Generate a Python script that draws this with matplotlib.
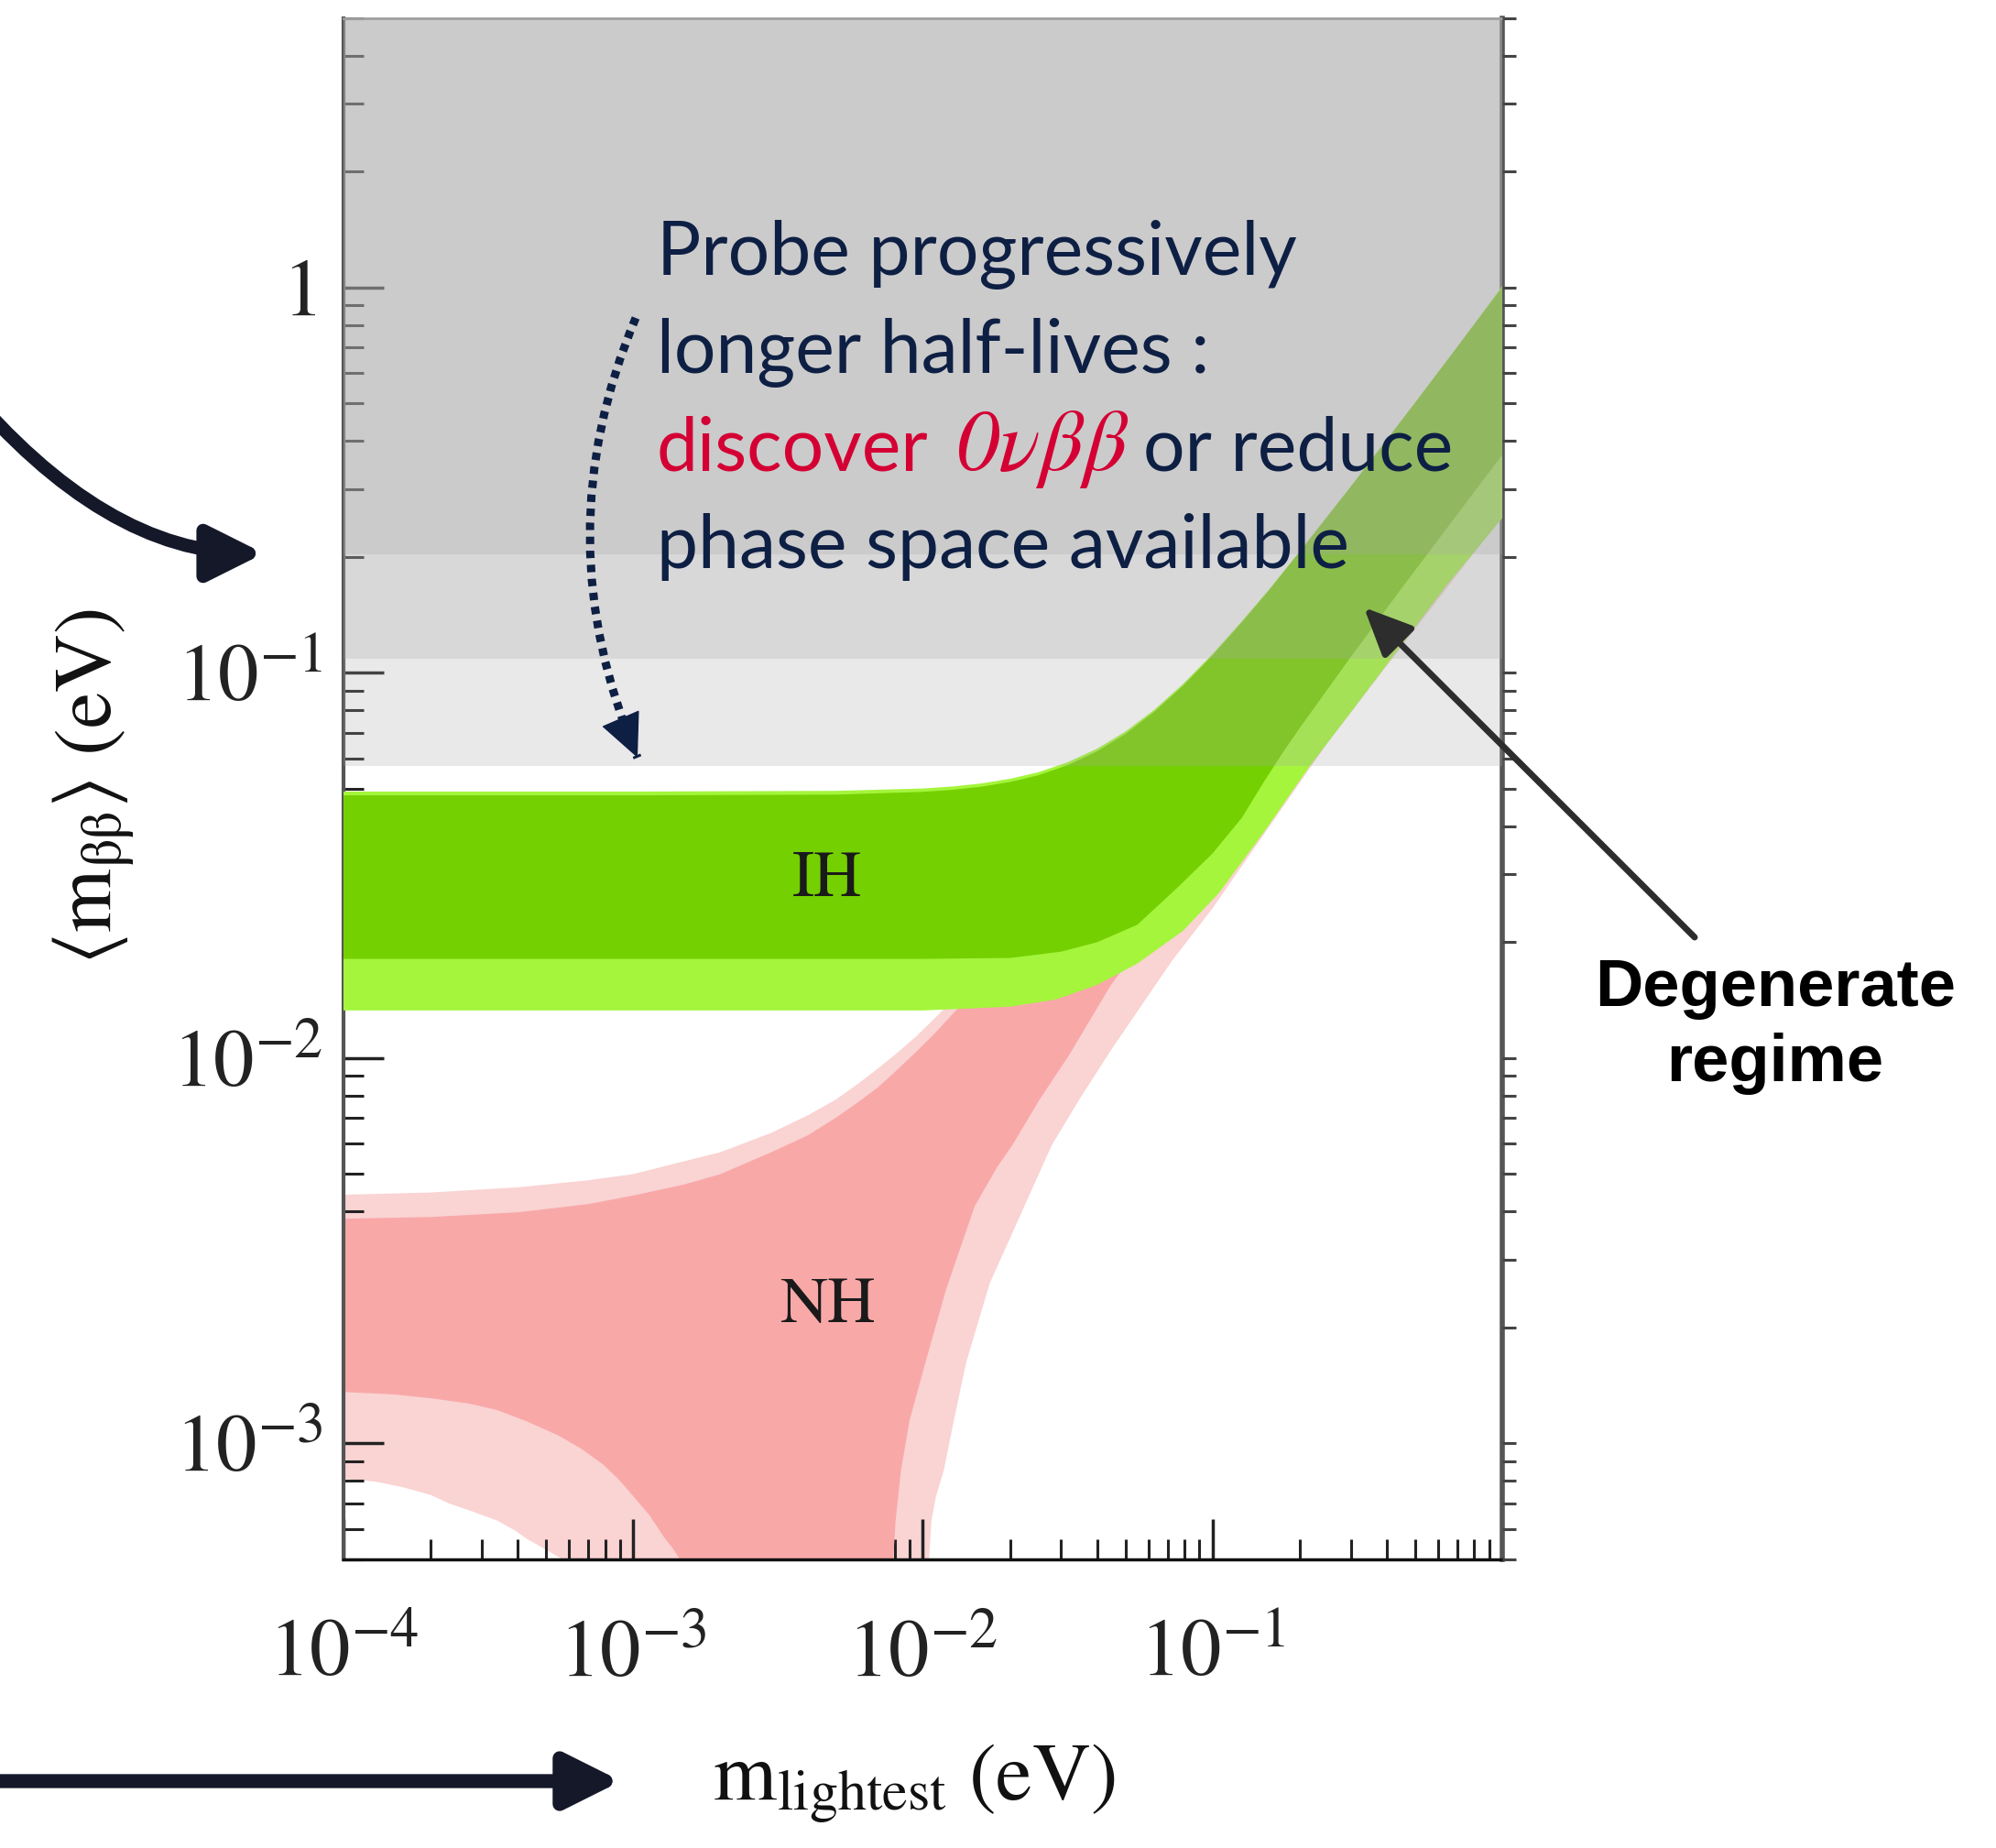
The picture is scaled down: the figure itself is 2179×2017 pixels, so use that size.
import matplotlib
matplotlib.use("Agg")
import matplotlib.pyplot as plt
from matplotlib.patches import FancyArrowPatch, PathPatch
from matplotlib.path import Path

plt.rcParams['mathtext.fontset'] = 'stix'
plt.rcParams['font.family'] = 'STIXGeneral'

W, H = 2179, 2017

### Band edges (eV) ###
# inverted hierarchy: upper edges
ih_top_x = [1e-4, 1e-3, 5e-3, 0.01, 0.0126, 0.0158, 0.02, 0.025, 0.0316, 0.04, 0.05, 0.063,
            0.079, 0.1, 0.126, 0.158, 0.2, 0.3, 0.5, 0.7, 1.0]
ih_top_3s = [0.0492, 0.0492, 0.0494, 0.0501, 0.0507, 0.0516, 0.0531, 0.0552, 0.0586, 0.0636,
             0.0704, 0.0803, 0.0935, 0.112, 0.136, 0.166, 0.207, 0.305, 0.503, 0.703, 1.01]
ih_top_1s = [0.0481, 0.0481, 0.0483, 0.0491, 0.0497, 0.0506, 0.0521, 0.0542, 0.0576, 0.0626,
             0.0694, 0.0793, 0.0925, 0.111, 0.135, 0.165, 0.206, 0.304, 0.502, 0.702, 1.0]
# inverted hierarchy: lower edges
ih_low_x_1s = [1e-4, 1e-3, 0.01, 0.02, 0.03, 0.04, 0.055, 0.076, 0.1, 0.126, 0.15, 0.172, 0.2,
               0.3, 0.455, 0.7, 1.0]
ih_low_1s = [0.0181, 0.0181, 0.0181, 0.0182, 0.0189, 0.0200, 0.0222, 0.0278, 0.0340, 0.0420,
             0.0520, 0.0610, 0.0720, 0.110, 0.168, 0.258, 0.368]
ih_low_x_3s = [1e-4, 1e-3, 0.01, 0.02, 0.0288, 0.04, 0.055, 0.079, 0.105, 0.15, 0.215, 0.3,
               0.643, 1.0]
ih_low_3s = [0.0133, 0.0133, 0.0133, 0.0136, 0.0142, 0.0155, 0.0176, 0.0214, 0.0268, 0.0385,
             0.0569, 0.079, 0.169, 0.252]

# normal hierarchy: upper edges
nh_top_x = [1e-4, 2e-4, 4e-4, 7e-4, 1e-3, 1.5e-3, 2e-3, 3e-3, 4e-3, 5e-3, 6e-3, 7e-3, 8e-3,
            9.5e-3, 0.011, 0.013, 0.016, 0.02, 0.05, 0.1, 0.3, 1.0]
nh_top_3s = [0.00442, 0.00448, 0.00462, 0.00482, 0.0050, 0.0054, 0.0057, 0.0064, 0.0071,
             0.0078, 0.0086, 0.0094, 0.0102, 0.0114, 0.0127, 0.0144, 0.017, 0.0205, 0.049,
             0.098, 0.295, 0.98]
nh_top_1s = [0.00383, 0.00387, 0.00398, 0.00418, 0.0044, 0.0047, 0.0050, 0.0057, 0.0063,
             0.0070, 0.0077, 0.0084, 0.0092, 0.0104, 0.0116, 0.0133, 0.0158, 0.019, 0.046,
             0.094, 0.285, 0.95]
# normal hierarchy: cancellation edge, small m_lightest side
nh_left_x_1s = [1e-4, 1.5e-4, 2e-4, 2.7e-4, 3.4e-4, 4.3e-4, 5.5e-4, 6.6e-4, 7.9e-4, 9e-4,
                1.0e-3, 1.14e-3, 1.28e-3, 1.38e-3, 1.45e-3, 1.55e-3]
nh_left_1s = [1.36e-3, 1.34e-3, 1.31e-3, 1.27e-3, 1.22e-3, 1.14e-3, 1.05e-3, 9.7e-4, 8.8e-4,
              8.0e-4, 7.3e-4, 6.5e-4, 5.7e-4, 5.3e-4, 5.0e-4, 4.5e-4]
nh_left_x_3s = [1e-4, 1.3e-4, 1.6e-4, 2e-4, 2.3e-4, 2.8e-4, 3.4e-4, 3.9e-4, 4.3e-4, 5e-4,
                5.7e-4, 6.3e-4]
nh_left_3s = [8.1e-4, 7.95e-4, 7.7e-4, 7.35e-4, 7.0e-4, 6.65e-4, 6.3e-4, 5.95e-4, 5.65e-4,
              5.3e-4, 5.0e-4, 4.6e-4]
# normal hierarchy: cancellation edge, large m_lightest side
nh_right_x_1s = [7.8e-3, 7.9e-3, 8.05e-3, 8.4e-3, 9.0e-3, 0.0102, 0.012, 0.0151, 0.018, 0.0204,
                 0.0252, 0.032, 0.0445, 0.06, 0.08, 0.12, 0.2, 0.4, 1.0]
nh_right_1s = [4.0e-4, 5.0e-4, 6.3e-4, 8.5e-4, 1.15e-3, 1.62e-3, 2.5e-3, 4.13e-3, 5.2e-3,
               5.96e-3, 7.78e-3, 0.0102, 0.01545, 0.021, 0.0285, 0.043, 0.072, 0.145, 0.36]
nh_right_x_3s = [0.0104, 0.0105, 0.0107, 0.0111, 0.0118, 0.0128, 0.0141, 0.017, 0.0224, 0.0279,
                 0.035, 0.045, 0.0723, 0.1, 0.15, 0.25, 0.5, 1.0]
nh_right_3s = [4.0e-4, 5.0e-4, 6.3e-4, 7.3e-4, 8.5e-4, 1.15e-3, 1.62e-3, 2.6e-3, 4.13e-3,
               5.96e-3, 7.9e-3, 0.0106, 0.01786, 0.0245, 0.038, 0.066, 0.130, 0.255]

# excluded <m_bb> limits, shaded from each up to the top
exclusion_limits = [0.0573, 0.109, 0.203]

xtick_vals = [1e-4, 1e-3, 1e-2, 1e-1]
xtick_labels = [r'$10^{-4}$', r'$10^{-3}$', r'$10^{-2}$', r'$10^{-1}$']
ytick_vals = [1e-3, 1e-2, 1e-1, 1]
ytick_labels = [r'$10^{-3}$', r'$10^{-2}$', r'$10^{-1}$', '1']

NAVY = '#0e1f44'
RED = '#d40034'


def px(x, y):
    # pixel position (from top-left) -> figure fraction
    return x / W, 1 - y / H


fig = plt.figure(figsize=(W / 100, H / 100), dpi=100)
ax = fig.add_axes([375 / W, 1 - 1702 / H, 1265 / W, 1682 / H])
ax.set_xscale('log')
ax.set_yscale('log')
ax.set_xlim(1e-4, 1)
ax.set_ylim(5e-4, 5)

# NH bands
ax.fill(nh_top_x + nh_right_x_3s[::-1] + nh_left_x_3s[::-1],
        nh_top_3s + nh_right_3s[::-1] + nh_left_3s[::-1],
        color='#fad3d3', lw=0, zorder=1)
ax.fill(nh_top_x + nh_right_x_1s[::-1] + nh_left_x_1s[::-1],
        nh_top_1s + nh_right_1s[::-1] + nh_left_1s[::-1],
        color='#f9a8a8', lw=0, zorder=2)

# IH bands
ax.fill(ih_top_x + ih_low_x_3s[::-1], ih_top_3s + ih_low_3s[::-1],
        color='#a4f53c', lw=0, zorder=3)
ax.fill(ih_top_x + ih_low_x_1s[::-1], ih_top_1s + ih_low_1s[::-1],
        color='#74d000', lw=0, zorder=4)

# excluded regions
for lim in exclusion_limits:
    ax.axhspan(lim, 10, color='#a8a8a8', alpha=0.25, lw=0, zorder=5)

ax.text(4.67e-3, 0.0289, 'IH', ha='center', va='center', fontsize=52, color='#1a1a1a', zorder=6)
ax.text(4.67e-3, 0.00226, 'NH', ha='center', va='center', fontsize=52, color='#1a1a1a', zorder=6)

# axes styling
ax.set_xticks(xtick_vals, xtick_labels)
ax.set_yticks(ytick_vals, ytick_labels)
ax.tick_params(which='major', direction='in', length=32, width=2.5, labelsize=64,
               pad=16, top=False, right=False, colors='#222222')
ax.tick_params(which='minor', direction='in', length=16, width=2.2, top=False, right=False,
               colors='#222222')
ax.tick_params(axis='x', which='major', pad=48)
ax.spines['left'].set_linewidth(3)
ax.spines['left'].set_color('#555555')
ax.spines['bottom'].set_linewidth(2.5)
ax.spines['bottom'].set_color('#111111')
ax.spines['top'].set_linewidth(2)
ax.spines['top'].set_color('#999999')
ax.spines['right'].set_linewidth(4)
ax.spines['right'].set_color('#555555')

ax2 = ax.twinx()
ax2.set_yscale('log')
ax2.set_ylim(5e-4, 5)
ax2.tick_params(which='both', direction='out', length=11, width=2.2, labelright=False,
                colors='#444444')
for s in ax2.spines.values():
    s.set_visible(False)

fig.text(*px(998, 1965), r'$\mathrm{m}_{\mathrm{lightest}}\ \mathrm{(eV)}$', ha='center',
         va='baseline', fontsize=64, color='#111111')
fig.text(*px(103, 858), r'$\langle \mathrm{m}_{\mathrm{\beta\beta}}\rangle\ \mathrm{(eV)}$',
         ha='center', va='center', rotation=90, fontsize=64, color='#111111')

# annotation text
txt = dict(family='Lato', fontsize=58, va='baseline', ha='left', zorder=20)
fig.text(*px(717, 300), 'Probe progressively', color=NAVY, **txt)
fig.text(*px(717, 407), 'longer half-lives :', color=NAVY, **txt)
fig.text(*px(717, 513), 'discover', color=RED, **txt)
fig.text(*px(1044, 513), '0νββ', color=RED, family='STIXGeneral', style='italic',
         fontsize=68, va='baseline', ha='left', zorder=20)
fig.text(*px(1248, 513), 'or reduce', color=NAVY, **txt)
fig.text(*px(717, 620), 'phase space available', color=NAVY, **txt)

fig.text(*px(1938, 1098), 'Degenerate', family='Liberation Sans', weight='bold', fontsize=52,
         ha='center', va='baseline', color='black')
fig.text(*px(1938, 1180), 'regime', family='Liberation Sans', weight='bold', fontsize=52,
         ha='center', va='baseline', color='black')


def arrow(p0, p1, lw, hl, hw, color, conn='arc3,rad=0'):
    a = FancyArrowPatch(px(*p0), px(*p1), transform=fig.transFigure,
                        arrowstyle=f'-|>,head_length={hl},head_width={hw}', mutation_scale=10,
                        connectionstyle=conn, lw=lw, color=color,
                        shrinkA=0, shrinkB=0, zorder=20)
    fig.add_artist(a)


# dotted curved pointer: quadratic curve drawn as a path, solid head on its end
curve = Path([px(694, 347), px(593, 587), px(696, 827)],
             [Path.MOVETO, Path.CURVE3, Path.CURVE3])
fig.add_artist(PathPatch(curve, transform=fig.transFigure, fill=False, edgecolor=NAVY,
                         lw=6.5, linestyle=(0, (0.9, 0.8)), capstyle='butt', zorder=20))
arrow((680, 790), (696, 827), 1, 3.2, 1.5, NAVY)

arrow((-40, 420), (288, 604), 10.5, 3.6, 1.8, '#141829', conn='angle3,angleA=-50,angleB=0')
arrow((-10, 1944), (678, 1944), 11, 3.6, 1.8, '#141829')
arrow((1850, 1023), (1489, 663), 5, 3.2, 1.45, '#2d2d2d')

fig.savefig('out.png', dpi=100)
